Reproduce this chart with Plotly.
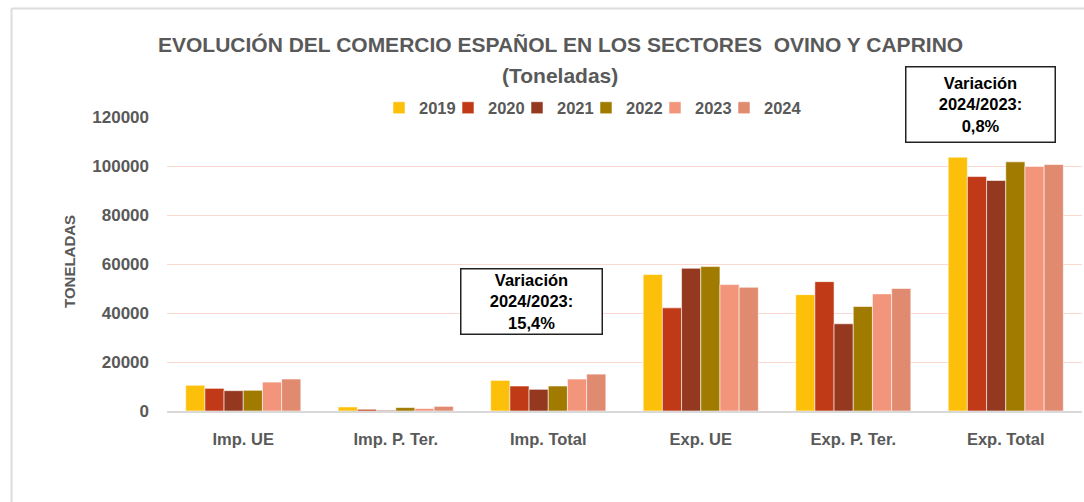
import plotly.graph_objects as go

# Trade flows (tonnes) for the sheep and goat sectors
categories = ["Imp. UE", "Imp. P. Ter.", "Imp. Total", "Exp. UE", "Exp. P. Ter.", "Exp. Total"]
years = ["2019", "2020", "2021", "2022", "2023", "2024"]

t2019 = [10500, 1650, 12500, 55700, 47500, 103600]
t2020 = [9250, 700, 10200, 42100, 52800, 95700]
t2021 = [8300, 300, 8850, 58250, 35600, 94100]
t2022 = [8450, 1400, 10200, 58950, 42650, 101700]
t2023 = [11800, 1000, 13050, 51600, 47800, 99800]
t2024 = [13050, 1900, 15060, 50500, 50000, 100600]

series = [t2019, t2020, t2021, t2022, t2023, t2024]
colors = ["#FDC00A", "#C13A18", "#943920", "#A07B00", "#F2957A", "#E08B6F"]

ytick_vals = [0, 20000, 40000, 60000, 80000, 100000, 120000]
ytick_text = ["0", "20000", "40000", "60000", "80000", "100000", "120000"]

W, H = 1084, 502
L, R, T, B = 167, 2, 117, 91
PW, PH = W - L - R, H - T - B


def px_x(x):
    return (x - L) / PW


def px_y(y):
    return (H - B - y) / PH


FONT = "Liberation Sans"
GREY = "#595959"
LEGEND_FONT = dict(family=FONT, size=16.5, color=GREY, weight="bold")

fig = go.Figure()
legend_layouts = {}
for i, (yr, vals, col) in enumerate(zip(years, series, colors)):
    key = "legend" if i == 0 else f"legend{i + 1}"
    fig.add_trace(go.Bar(
        name=yr, x=categories, y=vals, legend=key,
        marker=dict(color=col, line=dict(color="rgba(255,255,255,0.7)", width=0.8)),
    ))
    # one single-entry legend per year, laid out as a compact row
    legend_layouts[key] = dict(
        orientation="h", x=px_x(379 + 69 * i), xanchor="left",
        y=px_y(108), yanchor="middle", font=LEGEND_FONT,
        itemwidth=30, bgcolor="rgba(0,0,0,0)",
    )

fig.update_layout(
    width=W, height=H,
    margin=dict(l=L, r=R, t=T, b=B),
    paper_bgcolor="white", plot_bgcolor="white",
    barmode="group", bargap=0.245, bargroupgap=0,
    font=dict(family=FONT, color=GREY),
    showlegend=True,
    xaxis=dict(
        showgrid=False, showline=True, linecolor="#D9D9D9", linewidth=1.5,
        ticks="", tickfont=dict(family=FONT, size=16.5, color=GREY, weight="bold"),
        ticklabelstandoff=12, fixedrange=True,
    ),
    yaxis=dict(
        range=[0, 120000], tickvals=ytick_vals, ticktext=ytick_text,
        showgrid=True, gridcolor="#F9D9D0", gridwidth=1.2,
        zeroline=False, showline=False, ticks="",
        tickfont=dict(family=FONT, size=17, color=GREY, weight="bold"),
        ticklabelstandoff=17, fixedrange=True,
    ),
    **legend_layouts,
)

annotations = [
    dict(text="EVOLUCIÓN DEL COMERCIO ESPAÑOL EN LOS SECTORES  OVINO Y CAPRINO",
         x=px_x(560), y=px_y(45), font=dict(size=21, color=GREY, weight="bold")),
    dict(text="(Toneladas)", x=px_x(560), y=px_y(75),
         font=dict(size=21, color=GREY, weight="bold")),
    dict(text="TONELADAS", x=px_x(69), y=px_y(262), textangle=-90,
         font=dict(size=15, color=GREY, weight="bold")),
    dict(text="Variación<br>2024/2023:<br>15,4%", x=px_x(531.5), y=px_y(301),
         width=138, height=62, bordercolor="#222222", borderwidth=1.5, borderpad=1,
         bgcolor="white", font=dict(size=16.5, color="black", weight="bold")),
    dict(text="Variación<br>2024/2023:<br>0,8%", x=px_x(980), y=px_y(104),
         width=146, height=72, bordercolor="#222222", borderwidth=1.5, borderpad=1,
         bgcolor="white", font=dict(size=16.5, color="black", weight="bold")),
]
for a in annotations:
    a.update(xref="paper", yref="paper", showarrow=False,
             xanchor="center", yanchor="middle")
    a["font"]["family"] = FONT
fig.update_layout(annotations=annotations)

# Outer frame of the chart area (top and left edges)
fig.add_shape(type="line", xref="paper", yref="paper",
              x0=px_x(11.5), x1=px_x(W + 5), y0=px_y(8.5), y1=px_y(8.5),
              line=dict(color="#DCDCDC", width=2), layer="below")
fig.add_shape(type="line", xref="paper", yref="paper",
              x0=px_x(11.5), x1=px_x(11.5), y0=px_y(8.5), y1=px_y(H + 5),
              line=dict(color="#DCDCDC", width=2), layer="below")

fig.write_html("out.html", config={"displayModeBar": False})
